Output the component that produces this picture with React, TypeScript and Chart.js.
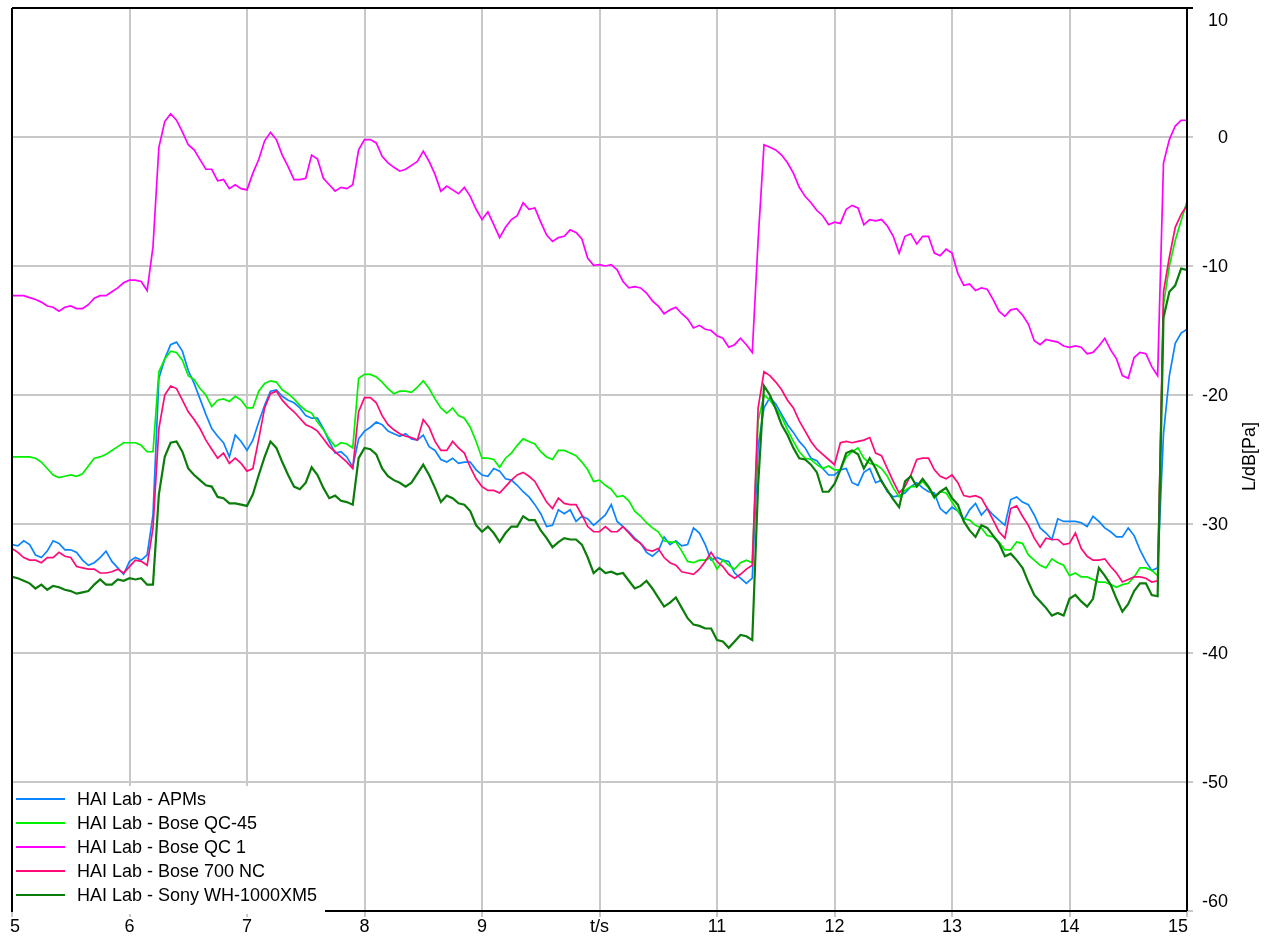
import React, { useEffect, useRef } from "react";
import { Chart, registerables } from "chart.js";

Chart.register(...registerables);

// Sample times (s): 5.00 .. 15.00 every 0.05 s
const times: number[] = Array.from({ length: 201 }, (_, i) => Math.round((5 + i * 0.05) * 100) / 100);

const xTicks = [5, 6, 7, 8, 9, 10, 11, 12, 13, 14, 15];
const xTickLabels = ["5", "6", "7", "8", "9", "t/s", "11", "12", "13", "14", "15"];
const yTicks = [10, 0, -10, -20, -30, -40, -50, -60];
const yTitle = "L/dB[Pa]";

const seriesNames = [
  "HAI Lab - APMs",
  "HAI Lab - Bose QC-45",
  "HAI Lab - Bose QC 1",
  "HAI Lab - Bose 700 NC",
  "HAI Lab - Sony WH-1000XM5",
];
const seriesColors = ["#0A84FF", "#00F000", "#FF00FF", "#FF0A78", "#0A7D0A"];

const apms: number[] = [
  -31.6, -31.7, -31.3, -31.6, -32.4, -32.6, -32.1, -31.3, -31.5, -32.0,
  -32.0, -32.2, -32.8, -33.2, -33.0, -32.6, -32.1, -32.9, -33.4, -33.9,
  -32.9, -32.6, -32.8, -32.4, -29.3, -18.7, -17.2, -16.1, -15.9, -16.6,
  -18.1, -19.1, -20.3, -21.5, -22.6, -23.2, -23.7, -24.8, -23.1, -23.6,
  -24.3, -23.5, -22.1, -20.8, -19.7, -19.6, -20.1, -20.4, -20.6, -21.0,
  -21.6, -21.8, -21.8, -22.6, -23.6, -24.5, -24.4, -24.8, -25.6, -23.4,
  -22.8, -22.5, -22.1, -22.3, -22.8, -23.0, -23.2, -23.0, -23.4, -23.5,
  -23.1, -24.0, -24.3, -25.0, -25.2, -24.9, -25.3, -25.2, -25.2, -25.8,
  -26.2, -26.3, -25.7, -25.9, -26.5, -26.6, -27.0, -27.5, -27.9, -28.5,
  -29.2, -30.2, -30.1, -28.9, -29.2, -28.9, -29.8, -29.4, -29.6, -30.1,
  -29.7, -29.3, -28.5, -29.8, -30.2, -30.6, -31.1, -31.5, -32.2, -32.5,
  -32.1, -31.0, -31.6, -31.3, -31.7, -31.6, -30.3, -30.7, -31.6, -32.8,
  -32.6, -32.8, -32.9, -33.8, -34.2, -34.6, -34.2, -24.0, -21.0, -20.2,
  -20.7, -21.5, -22.3, -22.9, -23.6, -24.1, -24.9, -25.1, -25.7, -26.2,
  -26.2, -25.8, -25.7, -26.8, -27.0, -26.0, -25.7, -26.8, -26.6, -27.5,
  -27.9, -27.8, -27.6, -27.1, -26.8, -27.2, -27.5, -27.6, -28.8, -29.2,
  -28.7, -29.0, -29.7, -28.9, -28.4, -29.3, -28.8, -29.3, -29.7, -30.1,
  -28.1, -27.9, -28.3, -28.5, -29.3, -30.3, -30.7, -31.2, -29.6, -29.8,
  -29.8, -29.8, -29.9, -30.2, -29.4, -29.8, -30.3, -30.6, -31.0, -31.0,
  -30.3, -30.9, -32.0, -32.9, -33.6, -33.4, -23.0, -18.5, -16.0, -15.2,
  -14.9,
];

const boseQc45: number[] = [
  -24.8, -24.8, -24.8, -24.8, -24.9, -25.2, -25.7, -26.2, -26.4, -26.3,
  -26.2, -26.3, -26.1, -25.5, -24.9, -24.8, -24.6, -24.3, -24.0, -23.7,
  -23.7, -23.7, -23.9, -24.4, -24.4, -18.2, -17.2, -16.6, -16.7, -17.3,
  -18.5, -18.8, -19.5, -20.0, -20.9, -20.4, -20.3, -20.5, -20.1, -20.4,
  -21.0, -21.0, -19.7, -19.1, -18.9, -19.0, -19.6, -19.9, -20.3, -20.8,
  -21.2, -21.4, -22.1, -22.7, -23.4, -24.0, -23.7, -23.8, -24.1, -18.7,
  -18.4, -18.4, -18.6, -19.0, -19.5, -19.9, -19.7, -19.7, -19.8, -19.4,
  -18.9, -19.5, -20.3, -21.0, -21.4, -21.0, -21.6, -21.8, -22.5, -23.6,
  -24.9, -24.9, -25.0, -25.6, -24.9, -24.5, -23.9, -23.4, -23.6, -23.8,
  -24.4, -24.8, -25.0, -24.3, -24.3, -24.5, -24.7, -25.2, -25.8, -26.7,
  -26.6, -27.0, -27.3, -27.9, -27.8, -28.2, -29.0, -29.4, -29.9, -30.3,
  -30.6, -31.3, -31.4, -31.4, -32.1, -32.9, -33.0, -32.8, -32.8, -32.6,
  -33.5, -32.8, -33.2, -33.5, -33.0, -32.8, -33.0, -22.0, -20.0, -20.4,
  -21.0, -21.7, -22.7, -23.6, -24.4, -24.9, -25.0, -25.4, -25.7, -25.5,
  -25.8, -25.8, -24.8, -24.4, -24.1, -24.9, -25.3, -25.4, -25.7, -26.3,
  -27.2, -27.9, -27.4, -27.1, -27.1, -26.7, -27.2, -28.0, -27.5, -27.6,
  -28.3, -29.0, -29.6, -29.7, -30.1, -30.3, -30.9, -31.0, -31.4, -32.0,
  -32.0, -31.4, -31.5, -32.4, -32.8, -33.2, -33.4, -32.7, -33.0, -33.2,
  -34.0, -33.8, -34.1, -34.1, -34.3, -34.5, -34.5, -34.7, -34.9, -34.7,
  -34.6, -34.1, -33.4, -33.4, -33.6, -34.0, -13.0, -10.0, -8.0, -6.5,
  -5.0,
];

const boseQc1: number[] = [
  -12.3, -12.3, -12.3, -12.45, -12.6, -12.8, -13.1, -13.2, -13.5, -13.2,
  -13.1, -13.3, -13.3, -13.0, -12.5, -12.3, -12.3, -12.0, -11.7, -11.3,
  -11.1, -11.1, -11.2, -11.9, -8.5, -0.8, 1.2, 1.8, 1.3, 0.4,
  -0.6, -1.0, -1.75, -2.5, -2.5, -3.4, -3.3, -4.0, -3.7, -4.0,
  -4.1, -2.8, -1.75, -0.3, 0.36, -0.2, -1.4, -2.3, -3.3, -3.3,
  -3.2, -1.4, -1.7, -3.2, -3.7, -4.2, -3.9, -4.0, -3.7, -1.0,
  -0.2, -0.2, -0.46, -1.5, -2.0, -2.35, -2.65, -2.5, -2.2, -1.9,
  -1.1, -1.9, -2.9, -4.2, -3.8, -4.1, -4.4, -3.9, -4.6, -5.6,
  -6.4, -5.8, -6.8, -7.8, -7.0, -6.4, -6.1, -5.1, -5.6, -5.5,
  -6.6, -7.6, -8.1, -7.8, -7.7, -7.2, -7.4, -7.9, -9.4, -9.95,
  -9.9, -10.0, -9.9, -10.3, -11.2, -11.7, -11.6, -11.7, -12.1, -12.7,
  -13.1, -13.7, -13.4, -13.2, -13.7, -14.1, -14.8, -14.6, -14.9, -15.0,
  -15.4, -15.6, -16.3, -16.1, -15.6, -16.1, -16.7, -8.0, -0.6, -0.8,
  -1.0, -1.4, -2.0, -2.8, -3.9, -4.6, -5.1, -5.7, -6.1, -6.8,
  -6.6, -6.7, -5.6, -5.3, -5.5, -6.8, -6.4, -6.5, -6.4, -6.9,
  -7.7, -9.0, -7.7, -7.5, -8.3, -7.7, -7.7, -9.0, -9.2, -8.7,
  -9.0, -10.6, -11.5, -11.4, -11.9, -11.7, -11.8, -12.6, -13.5, -13.9,
  -13.4, -13.3, -13.8, -14.5, -15.8, -16.1, -15.7, -15.8, -15.9, -16.2,
  -16.3, -16.2, -16.3, -16.8, -16.7, -16.2, -15.6, -16.5, -17.2, -18.5,
  -18.7, -17.1, -16.7, -16.8, -17.8, -18.5, -2.0, -0.2, 0.85, 1.3,
  1.3,
];

const bose700: number[] = [
  -31.9, -32.2, -32.6, -32.8, -32.8, -33.0, -32.6, -32.6, -32.2, -32.5,
  -32.6, -33.3, -33.4, -33.5, -33.5, -33.8, -33.8, -33.7, -33.5, -33.8,
  -33.3, -32.8, -32.9, -33.2, -30.3, -22.6, -20.0, -19.3, -19.5, -20.4,
  -21.3, -21.9, -22.6, -23.5, -24.2, -24.9, -24.5, -25.3, -24.9, -25.3,
  -25.9, -25.7, -23.4, -21.0, -19.9, -19.7, -20.4, -20.9, -21.3, -21.8,
  -22.3, -22.5, -22.8, -23.4, -24.0, -24.4, -24.8, -25.2, -25.7, -21.3,
  -20.2, -20.2, -20.6, -21.6, -22.3, -22.7, -23.0, -23.2, -23.3, -23.5,
  -21.9, -22.5, -23.6, -24.3, -24.3, -23.6, -24.1, -24.5, -25.6, -26.5,
  -27.1, -27.4, -27.4, -27.6, -27.1, -26.6, -26.2, -26.0, -26.3, -26.7,
  -27.5, -28.3, -28.8, -28.0, -28.4, -28.5, -28.5, -29.3, -30.2, -30.6,
  -30.6, -30.2, -30.6, -30.6, -30.2, -30.7, -31.2, -31.5, -32.0, -32.1,
  -31.9, -32.6, -33.0, -33.2, -33.7, -33.8, -33.9, -33.5, -32.9, -32.2,
  -32.9, -33.3, -33.9, -34.2, -33.9, -33.5, -33.2, -21.0, -18.2, -18.5,
  -19.0, -19.6, -20.4, -21.0, -22.0, -22.8, -23.6, -24.2, -24.6, -25.0,
  -25.4, -23.7, -23.6, -23.7, -23.6, -23.5, -23.3, -24.5, -24.7, -25.7,
  -26.7, -27.6, -27.1, -26.2, -25.0, -24.9, -24.9, -25.8, -26.3, -26.5,
  -26.2, -26.8, -27.8, -27.9, -27.8, -28.0, -28.8, -29.7, -30.6, -31.1,
  -28.8, -28.6, -29.4, -30.1, -31.1, -31.8, -31.1, -31.2, -31.2, -31.6,
  -31.5, -30.7, -31.9, -32.5, -32.8, -32.8, -32.7, -33.3, -33.8, -34.5,
  -34.3, -34.1, -34.1, -34.2, -34.5, -34.4, -12.0, -9.3, -7.0, -6.0,
  -5.3,
];

const sonyXm5: number[] = [
  -34.1, -34.2, -34.4, -34.6, -35.0, -34.7, -35.1, -34.8, -34.9, -35.1,
  -35.2, -35.4, -35.3, -35.2, -34.7, -34.3, -34.7, -34.7, -34.3, -34.4,
  -34.2, -34.3, -34.2, -34.7, -34.7, -27.7, -24.8, -23.7, -23.6, -24.4,
  -25.7, -26.2, -26.6, -27.0, -27.1, -27.9, -28.0, -28.4, -28.4, -28.5,
  -28.6, -27.7, -26.2, -24.8, -23.6, -24.1, -25.2, -26.2, -27.1, -27.3,
  -26.8, -25.6, -26.2, -27.2, -28.0, -27.8, -28.2, -28.3, -28.5, -24.9,
  -24.1, -24.2, -24.6, -25.7, -26.3, -26.6, -26.8, -27.1, -26.8, -26.1,
  -25.4, -26.2, -27.2, -28.3, -27.8, -28.0, -28.4, -28.5, -29.0, -30.1,
  -30.6, -30.2, -30.7, -31.4, -30.7, -30.2, -30.2, -29.4, -29.7, -29.7,
  -30.5, -31.1, -31.8, -31.4, -31.1, -31.2, -31.2, -31.6, -32.6, -33.8,
  -33.4, -33.8, -33.7, -33.9, -33.8, -34.4, -35.0, -34.8, -34.4, -35.0,
  -35.7, -36.4, -36.1, -35.7, -36.5, -37.3, -37.8, -37.9, -38.1, -38.1,
  -39.0, -39.1, -39.6, -39.1, -38.6, -38.7, -39.0, -27.0, -19.3, -20.0,
  -21.1, -22.3, -23.1, -24.1, -24.9, -25.0, -25.4, -26.0, -27.5, -27.5,
  -26.9, -25.8, -24.5, -24.3, -24.6, -25.7, -24.9, -25.7, -26.7, -27.4,
  -28.1, -28.7, -26.7, -26.3, -27.1, -26.5, -27.1, -27.9, -27.5, -27.2,
  -28.0, -28.5, -29.8, -30.5, -31.0, -30.1, -30.3, -30.9, -31.5, -32.5,
  -32.3, -32.8, -33.4, -34.5, -35.5, -36.0, -36.5, -37.1, -36.9, -37.1,
  -35.8, -35.5, -36.0, -36.4, -35.8, -33.4, -34.0, -34.7, -35.8, -36.8,
  -36.2, -35.2, -34.6, -34.6, -35.5, -35.6, -14.0, -12.0, -11.5, -10.2,
  -10.3,
];

const seriesValues = [apms, boseQc45, boseQc1, bose700, sonyXm5];
const seriesWidths = [1.7, 1.7, 1.7, 1.7, 2.2];
const seriesOrder = [4, 3, 2, 1, 0];

const FONT = '"Liberation Sans", Arial, sans-serif';

const overlayPlugin = {
  id: "overlay",
  afterDraw(chart: any) {
    const ctx: CanvasRenderingContext2D = chart.ctx;
    const { left, right, top, bottom } = chart.chartArea;
    const xs = chart.scales.x;
    const ys = chart.scales.y;
    ctx.save();

    // frame
    ctx.strokeStyle = "#000";
    ctx.lineWidth = 2;
    ctx.beginPath();
    ctx.moveTo(left, top);
    ctx.lineTo(right + 6, top);
    ctx.moveTo(right, top);
    ctx.lineTo(right, bottom);
    ctx.moveTo(left, bottom);
    ctx.lineTo(right, bottom);
    ctx.moveTo(left, top);
    ctx.lineTo(left, bottom + 1);
    ctx.stroke();

    ctx.fillStyle = "#000";
    ctx.font = `18px ${FONT}`;
    ctx.textBaseline = "middle";

    // x tick labels
    xTicks.forEach((v, i) => {
      const px = xs.getPixelForValue(v);
      if (i === 0) {
        ctx.textAlign = "left";
        ctx.fillText(xTickLabels[i], px - 2, bottom + 16);
      } else if (i === xTicks.length - 1) {
        ctx.textAlign = "right";
        ctx.fillText(xTickLabels[i], px + 1, bottom + 16);
      } else {
        ctx.textAlign = "center";
        ctx.fillText(xTickLabels[i], px, bottom + 16);
      }
    });

    // y tick labels
    ctx.textAlign = "right";
    yTicks.forEach((v, i) => {
      let py = ys.getPixelForValue(v);
      if (i === 0) py += 12;
      if (i === yTicks.length - 1) py -= 10;
      ctx.fillText(String(v), right + 41, py + 1);
    });

    // y title (reads bottom to top)
    ctx.save();
    ctx.translate(right + 63, (top + bottom) / 2 - 3);
    ctx.rotate(-Math.PI / 2);
    ctx.textAlign = "center";
    ctx.fillText(yTitle, 0, 0);
    ctx.restore();

    // legend
    const boxTop = bottom - 125;
    ctx.fillStyle = "#fff";
    ctx.fillRect(left + 1, boxTop, 312, bottom + 3 - boxTop);
    seriesNames.forEach((name, i) => {
      const y = boxTop + 13 + i * 24;
      ctx.strokeStyle = seriesColors[i];
      ctx.lineWidth = 2;
      ctx.beginPath();
      ctx.moveTo(left + 4, y);
      ctx.lineTo(left + 53, y);
      ctx.stroke();
      ctx.fillStyle = "#000";
      ctx.textAlign = "left";
      ctx.fillText(name, left + 65, y + 1);
    });

    ctx.restore();
  },
};

export default function App() {
  const canvasRef = useRef<HTMLCanvasElement | null>(null);

  useEffect(() => {
    if (!canvasRef.current) return;
    const datasets = seriesNames.map((name, s) => ({
      label: name,
      data: times.map((t, i) => ({ x: t, y: seriesValues[s][i] })),
      borderColor: seriesColors[s],
      backgroundColor: seriesColors[s],
      borderWidth: seriesWidths[s],
      pointRadius: 0,
      tension: 0,
      fill: false,
      order: seriesOrder[s],
    }));

    const chart = new Chart(canvasRef.current, {
      type: "line",
      data: { datasets },
      options: {
        animation: false,
        responsive: false,
        devicePixelRatio: 1,
        layout: { padding: { left: 12, top: 8, right: 0, bottom: 0 } },
        plugins: { legend: { display: false }, tooltip: { enabled: false } },
        scales: {
          x: {
            type: "linear",
            min: 5,
            max: 15,
            ticks: { stepSize: 1, display: false },
            grid: { color: "#C8C8C8", lineWidth: 2, drawTicks: true, tickLength: 6, tickColor: "#C8C8C8" },
            border: { display: false },
            afterFit: (scale: any) => {
              scale.height = 28;
            },
          },
          y: {
            type: "linear",
            position: "right",
            min: -60,
            max: 10,
            ticks: { stepSize: 10, display: false },
            grid: { color: "#C8C8C8", lineWidth: 2, drawTicks: true, tickLength: 6, tickColor: "#C8C8C8" },
            border: { display: false },
            afterFit: (scale: any) => {
              scale.width = 83;
            },
          },
        },
      } as any,
      plugins: [overlayPlugin],
    });
    return () => chart.destroy();
  }, []);

  return (
    <div style={{ position: "absolute", left: 0, top: 0, width: 1270, height: 939, background: "#fff" }}>
      <canvas ref={canvasRef} width={1270} height={939} style={{ display: "block" }} />
    </div>
  );
}
